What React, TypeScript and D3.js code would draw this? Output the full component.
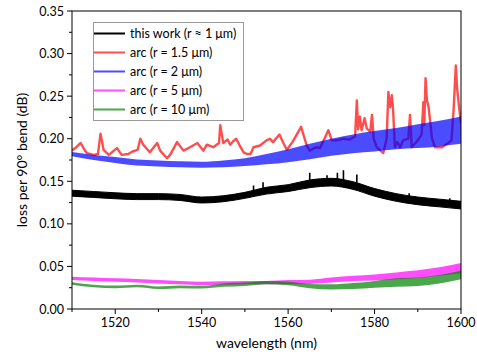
import React from 'react';
import * as d3 from 'd3';

// sampled every 5 nm
const wl = [1510, 1515, 1520, 1525, 1530, 1535, 1540, 1545, 1550, 1555, 1560, 1565, 1570, 1575, 1580, 1585, 1590, 1595, 1600];

// this work (r ≈ 1 µm): band centre and half-width
const blackMid = [0.136, 0.1345, 0.133, 0.132, 0.132, 0.131, 0.128, 0.1295, 0.1335, 0.139, 0.142, 0.147, 0.149, 0.145, 0.137, 0.131, 0.127, 0.1245, 0.122];
const blackHalf = [0.0035, 0.0035, 0.0035, 0.0035, 0.0035, 0.0035, 0.0035, 0.0035, 0.0035, 0.004, 0.004, 0.0045, 0.0045, 0.0045, 0.0045, 0.0045, 0.0045, 0.0045, 0.0045];
const blackSpikeWl = [1552, 1554.2, 1565, 1569, 1571.4, 1572.8, 1575.9, 1588, 1597.4];
const blackSpikeTop = [0.145, 0.149, 0.16, 0.157, 0.16, 0.163, 0.158, 0.136, 0.13];

// arc r = 2 µm
const blueMid = [0.182, 0.178, 0.175, 0.172, 0.171, 0.17, 0.1695, 0.1705, 0.1725, 0.176, 0.18, 0.185, 0.19, 0.194, 0.197, 0.2, 0.203, 0.206, 0.21];
const blueHalf = [0.0025, 0.003, 0.0035, 0.0035, 0.0035, 0.0035, 0.0035, 0.004, 0.0045, 0.006, 0.0075, 0.009, 0.01, 0.011, 0.012, 0.0125, 0.014, 0.015, 0.016];

// arc r = 5 µm
const magentaMid = [0.036, 0.035, 0.034, 0.0332, 0.032, 0.031, 0.03, 0.0305, 0.031, 0.031, 0.0315, 0.032, 0.034, 0.036, 0.037, 0.039, 0.041, 0.044, 0.048];
const magentaHalf = [0.002, 0.002, 0.002, 0.002, 0.002, 0.002, 0.002, 0.002, 0.002, 0.002, 0.0025, 0.0025, 0.003, 0.003, 0.0035, 0.004, 0.0045, 0.005, 0.006];

// arc r = 10 µm
const greenMid = [0.03, 0.027, 0.026, 0.027, 0.025, 0.026, 0.0255, 0.028, 0.029, 0.031, 0.03, 0.027, 0.026, 0.027, 0.029, 0.031, 0.032, 0.035, 0.04];
const greenHalf = [0.0015, 0.0015, 0.0015, 0.0015, 0.0015, 0.0015, 0.0015, 0.002, 0.002, 0.002, 0.002, 0.0025, 0.003, 0.0035, 0.004, 0.005, 0.005, 0.005, 0.005];

// arc r = 1.5 µm (thin spiky trace)
const redWl = [1510, 1511, 1512, 1513, 1513.5, 1515, 1516, 1516.6, 1517.3, 1518.5, 1520.4, 1521.5, 1523, 1524, 1525.2, 1525.8, 1526.5, 1528, 1529.7, 1530.4, 1532, 1532.7, 1534.3, 1535.8, 1537.3, 1539, 1540.4, 1541.2, 1542.7, 1544, 1544.3, 1545, 1546, 1546.6, 1547.3, 1548, 1549, 1549.7, 1550.5, 1551.3, 1552, 1553.5, 1555, 1555.8, 1556.5, 1558, 1558.9, 1559.7, 1561, 1563, 1564.3, 1565, 1566.5, 1567.4, 1568.6, 1569.3, 1570.1, 1571.3, 1572.8, 1574.3, 1575.5, 1575.9, 1576.2, 1576.6, 1577, 1577.7, 1578.2, 1579, 1579.4, 1579.8, 1580.5, 1581.2, 1582, 1582.8, 1583.2, 1583.6, 1584, 1584.3, 1584.7, 1585.3, 1585.9, 1586.6, 1587.8, 1588.2, 1588.6, 1589.3, 1590, 1590.9, 1591.3, 1591.5, 1591.8, 1592.1, 1592.5, 1593.3, 1594, 1595.6, 1596.8, 1597.8, 1598.3, 1598.8, 1599.1, 1599.6, 1600];
const redVal = [0.186, 0.19, 0.195, 0.186, 0.183, 0.181, 0.182, 0.206, 0.187, 0.181, 0.189, 0.181, 0.182, 0.185, 0.187, 0.2, 0.193, 0.184, 0.195, 0.186, 0.177, 0.181, 0.196, 0.186, 0.19, 0.195, 0.186, 0.193, 0.19, 0.195, 0.216, 0.195, 0.199, 0.193, 0.197, 0.2, 0.19, 0.184, 0.182, 0.182, 0.19, 0.192, 0.198, 0.2, 0.196, 0.205, 0.195, 0.187, 0.196, 0.214, 0.192, 0.186, 0.19, 0.189, 0.202, 0.21, 0.198, 0.198, 0.2, 0.199, 0.203, 0.245, 0.211, 0.226, 0.21, 0.224, 0.212, 0.208, 0.228, 0.2, 0.19, 0.187, 0.183, 0.2, 0.255, 0.237, 0.251, 0.233, 0.19, 0.196, 0.19, 0.198, 0.2, 0.228, 0.19, 0.194, 0.198, 0.205, 0.243, 0.216, 0.271, 0.246, 0.237, 0.2, 0.19, 0.19, 0.194, 0.198, 0.235, 0.286, 0.259, 0.235, 0.218];

const xTicks = [1520, 1540, 1560, 1580, 1600];
const xMinor = [1510, 1530, 1550, 1570, 1590];
const yTicks = [0, 0.05, 0.1, 0.15, 0.2, 0.25, 0.3, 0.35];
const yMinor = [0.025, 0.075, 0.125, 0.175, 0.225, 0.275, 0.325];

const legendLabels = ['this work (r \u2248 1 \u03bcm)', 'arc (r = 1.5 \u03bcm)', 'arc (r = 2 \u03bcm)', 'arc (r = 5 \u03bcm)', 'arc (r = 10 \u03bcm)'];
const legendColors = ['#000000', '#ff4d4d', '#4d4dff', '#ff4dff', '#4da64d'];

const W = 477;
const H = 356;
const m = { left: 72, right: 16, top: 11, bottom: 47 };
const FONT = 'Lato, "Open Sans", sans-serif';

export default function App() {
  const x = d3.scaleLinear().domain([1510, 1600]).range([m.left, W - m.right]);
  const y = d3.scaleLinear().domain([0, 0.35]).range([H - m.bottom, m.top]);

  const band = (mid: number[], half: number[]) =>
    d3.area<number>()
      .x((_, i) => x(wl[i]))
      .y0((d, i) => y(d - half[i]))
      .y1((d, i) => y(d + half[i]))
      .curve(d3.curveMonotoneX)(mid) || '';

  const redLine = d3.line<number>().x((_, i) => x(redWl[i])).y(d => y(d))(redVal) || '';
  const blackAt = d3.scaleLinear().domain(wl).range(blackMid);

  const x0 = m.left, x1 = W - m.right, y0 = H - m.bottom, y1 = m.top;

  return (
    <svg width={W} height={H} style={{ position: 'absolute', left: 0, top: 0, background: '#fff' }} fontFamily={FONT}>
      <defs>
        <clipPath id="plot">
          <rect x={x0} y={y1} width={x1 - x0} height={y0 - y1} />
        </clipPath>
      </defs>
      <g clipPath="url(#plot)">
        <path d={band(blackMid, blackHalf)} fill="#000" stroke="#000" strokeWidth={1} />
        {blackSpikeWl.map((w, i) => (
          <line key={i} x1={x(w)} x2={x(w)} y1={y(blackAt(w))} y2={y(blackSpikeTop[i])} stroke="#000" strokeWidth={1.6} />
        ))}
        <path d={redLine} fill="none" stroke="rgba(255,0,0,0.7)" strokeWidth={2.4} strokeLinejoin="round" />
        <path d={band(blueMid, blueHalf)} fill="rgba(0,0,255,0.7)" stroke="none" />
        <path d={band(magentaMid, magentaHalf)} fill="rgba(255,0,255,0.7)" stroke="none" />
        <path d={band(greenMid, greenHalf)} fill="rgba(0,128,0,0.7)" stroke="none" />
      </g>

      {/* frame */}
      <rect x={x0} y={y1} width={x1 - x0} height={y0 - y1} fill="none" stroke="#000" strokeWidth={1} />

      {/* x axis */}
      {xTicks.map(t => (
        <g key={t}>
          <line x1={x(t)} x2={x(t)} y1={y0} y2={y0 + 5} stroke="#000" />
          <text x={x(t)} y={y0 + 18} textAnchor="middle" fontSize={12.5} fill="#000">{t}</text>
        </g>
      ))}
      {xMinor.map(t => (
        <line key={t} x1={x(t)} x2={x(t)} y1={y0} y2={y0 + 3} stroke="#000" />
      ))}
      <text x={(x0 + x1) / 2} y={H - 8} textAnchor="middle" fontSize={14} fill="#000">wavelength (nm)</text>

      {/* y axis */}
      {yTicks.map(t => (
        <g key={t}>
          <line x1={x0 - 5} x2={x0} y1={y(t)} y2={y(t)} stroke="#000" />
          <text x={x0 - 8} y={y(t) + 4.5} textAnchor="end" fontSize={12.5} fill="#000">{t.toFixed(2)}</text>
        </g>
      ))}
      {yMinor.map(t => (
        <line key={t} x1={x0 - 3} x2={x0} y1={y(t)} y2={y(t)} stroke="#000" />
      ))}
      <text transform={`translate(27,${(y0 + y1) / 2}) rotate(-90)`} textAnchor="middle" fontSize={14} fill="#000">
        loss per 90° bend (dB)
      </text>

      {/* legend */}
      <rect x={93.5} y={22.5} width={150} height={98} fill="#fff" stroke="#999" strokeWidth={1} />
      {legendLabels.map((l, i) => (
        <g key={l} transform={`translate(94,${33.5 + i * 19})`}>
          <line x1={0} x2={31} y1={0} y2={0} stroke={legendColors[i]} strokeWidth={2} />
          <text x={36} y={4.5} fontSize={12.5} fill="#000">{l}</text>
        </g>
      ))}
    </svg>
  );
}
